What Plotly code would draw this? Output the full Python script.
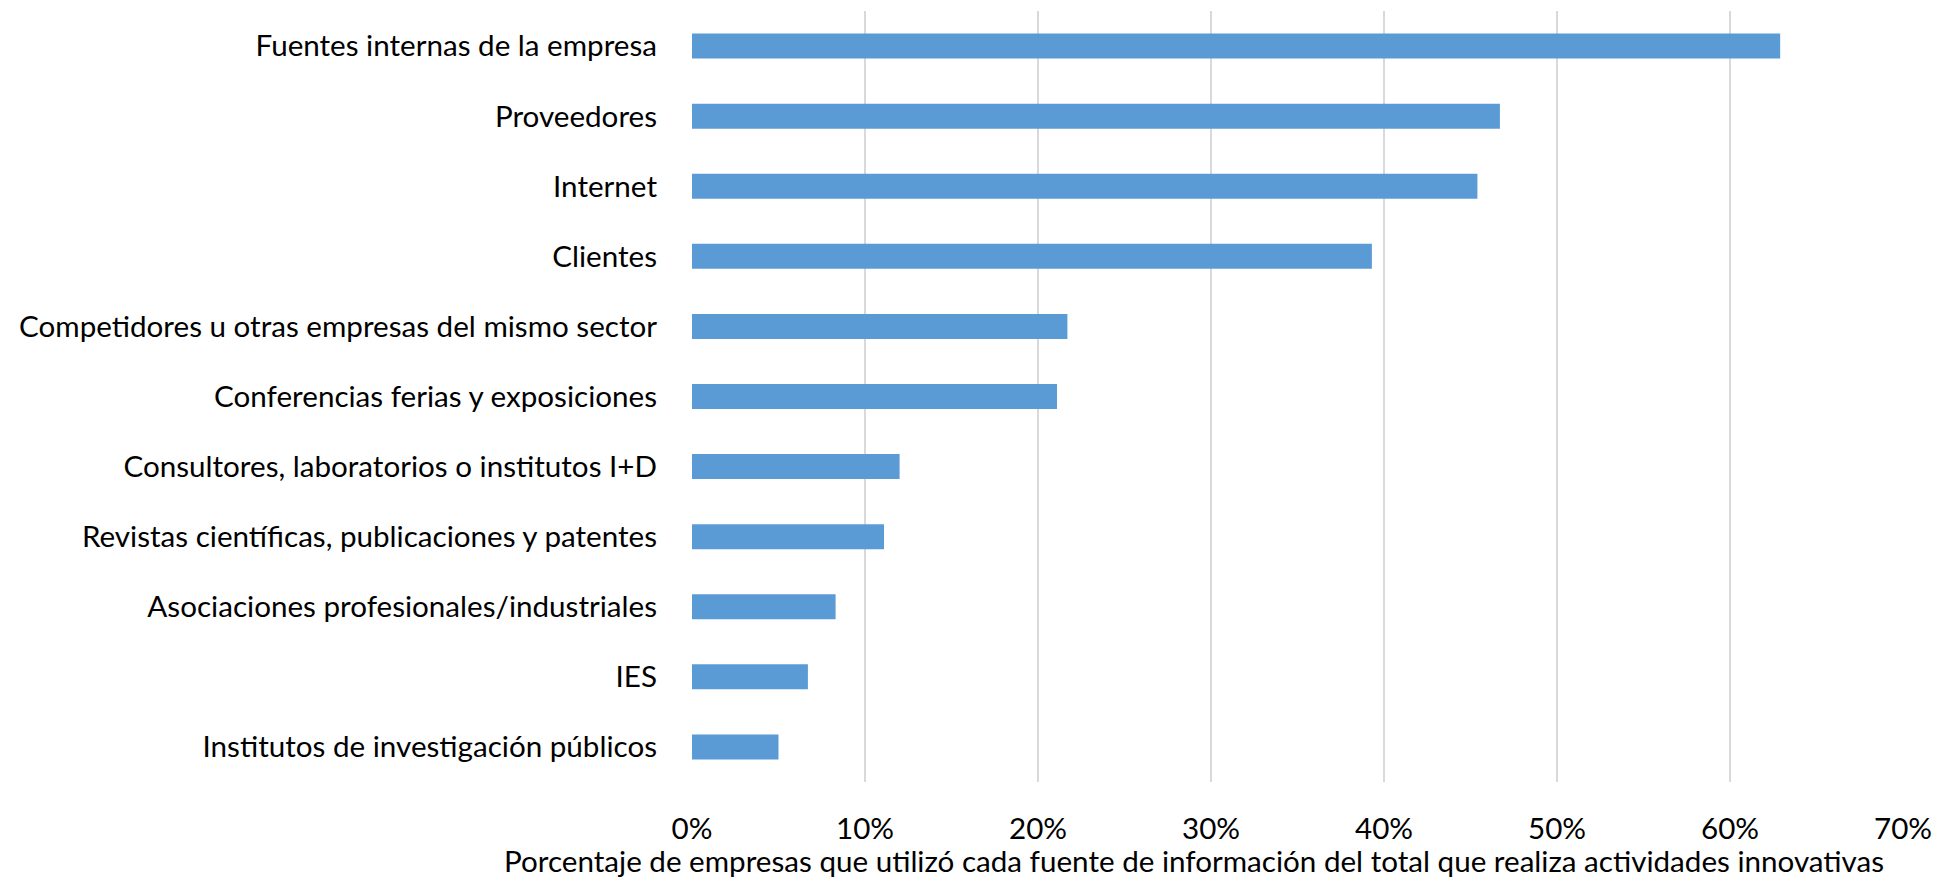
import plotly.graph_objects as go

categories = [
    "Fuentes internas de la empresa",
    "Proveedores",
    "Internet",
    "Clientes",
    "Competidores u otras empresas del mismo sector",
    "Conferencias ferias y exposiciones",
    "Consultores, laboratorios o institutos I+D",
    "Revistas científicas, publicaciones y patentes",
    "Asociaciones profesionales/industriales",
    "IES",
    "Institutos de investigación públicos",
]
values = [62.9, 46.7, 45.4, 39.3, 21.7, 21.1, 12.0, 11.1, 8.3, 6.7, 5.0]
tick_vals = [0, 10, 20, 30, 40, 50, 60, 70]
tick_text = ["0%", "10%", "20%", "30%", "40%", "50%", "60%", "70%"]
x_title = "Porcentaje de empresas que utilizó cada fuente de información del total que realiza actividades innovativas"

FONT = "Lato"
FS = 29.6

fig = go.Figure(
    go.Bar(
        x=values,
        y=categories,
        orientation="h",
        marker=dict(color="#5B9BD5", line=dict(width=0)),
        hoverinfo="x+y",
    )
)

fig.update_layout(
    width=1936,
    height=881,
    margin=dict(l=692, r=33, t=11, b=99, autoexpand=False),
    paper_bgcolor="white",
    plot_bgcolor="white",
    bargap=0.643,
    showlegend=False,
    font=dict(family=FONT, size=FS, color="#000000"),
)

fig.update_xaxes(
    range=[0, 70],
    tickvals=tick_vals,
    ticktext=tick_text,
    showgrid=True,
    gridcolor="#D9D9D9",
    gridwidth=1.5,
    zeroline=False,
    showline=False,
    ticks="",
    ticklabelstandoff=26,
    tickfont=dict(family=FONT, size=FS, color="#000000"),
    fixedrange=True,
)
fig.update_yaxes(
    autorange=False,
    range=[10.5, -0.5],
    showgrid=False,
    zeroline=False,
    showline=False,
    ticks="",
    ticklabelstandoff=34,
    tickfont=dict(family=FONT, size=FS, color="#000000"),
    fixedrange=True,
)

fig.add_annotation(
    text=x_title,
    xref="paper",
    yref="paper",
    x=(1194 - 692) / (1936 - 692 - 33),
    y=-(879 - 782) / (881 - 11 - 99),
    xanchor="center",
    yanchor="bottom",
    borderpad=0,
    showarrow=False,
    font=dict(family=FONT, size=FS, color="#000000"),
)

fig.write_html("out.html")
